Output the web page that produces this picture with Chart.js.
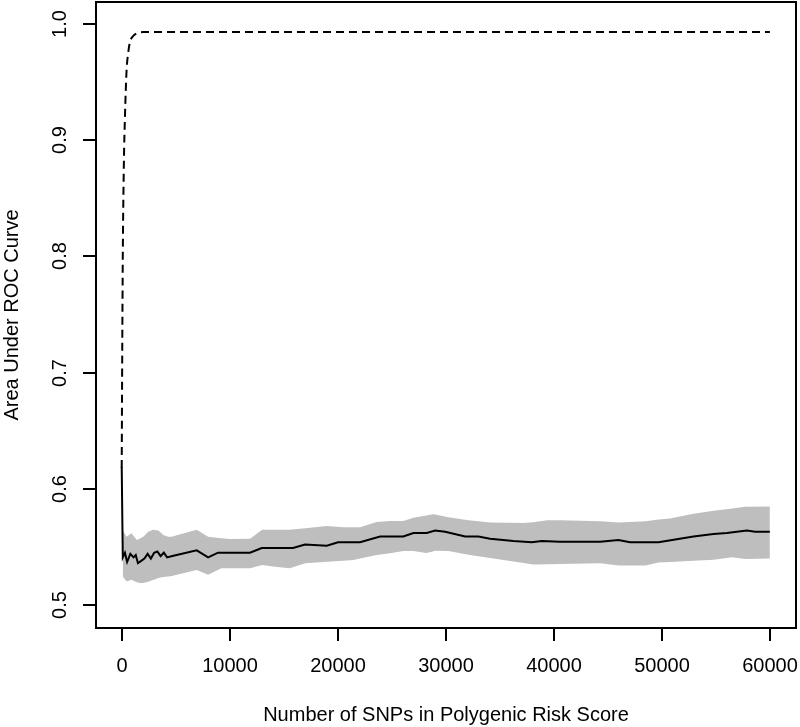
<!DOCTYPE html>
<html>
<head>
<meta charset="utf-8">
<script src="https://cdn.jsdelivr.net/npm/chart.js@4"></script>
<style>
  html, body { margin: 0; padding: 0; background: #fff; }
  canvas { display: block; }
</style>
</head>
<body>
<canvas id="aucChart" width="800" height="727"></canvas>
<script>
// Axis ticks and titles
const xTicks = [0, 10000, 20000, 30000, 40000, 50000, 60000];
const yTicks = [0.5, 0.6, 0.7, 0.8, 0.9, 1.0];
const xTitle = 'Number of SNPs in Polygenic Risk Score';
const yTitle = 'Area Under ROC Curve';

// Dashed curve (rises fast, then flat)
const dashSnps = [0, 50, 100, 200, 300, 450, 600, 750, 1000, 1400, 2000, 60000];
const dashAuc  = [0.618, 0.72, 0.80, 0.88, 0.92, 0.96, 0.975, 0.984, 0.989, 0.992, 0.993, 0.993];

// Mean AUC (solid line)
const meanSnps = [0, 100, 300, 500, 800, 1100, 1300, 1500, 1800, 2100, 2400, 2700, 3000, 3300, 3600, 3900, 4200, 4600,
  6940, 8000, 8920, 11880, 12960, 15860, 16970, 18980, 20030, 22060, 23920, 26070, 27000, 28240, 29010, 29940,
  31790, 33020, 34100, 36260, 37960, 38890, 40580, 44290, 45980, 47060, 49690, 52930, 54780, 56020, 57870, 58640, 60000];
const meanAuc = [0.619, 0.541, 0.545, 0.537, 0.544, 0.541, 0.543, 0.536, 0.538, 0.540, 0.544, 0.540, 0.545, 0.546, 0.542, 0.545, 0.541, 0.542,
  0.547, 0.541, 0.545, 0.545, 0.549, 0.549, 0.552, 0.551, 0.554, 0.554, 0.559, 0.559, 0.562, 0.562, 0.564, 0.563,
  0.559, 0.559, 0.557, 0.555, 0.554, 0.555, 0.5545, 0.5545, 0.556, 0.554, 0.554, 0.559, 0.561, 0.562, 0.564, 0.563, 0.563];

// Grey band (upper / lower bounds)
const bandSnps = [100, 450, 900, 1400, 1700, 2000, 2450, 2900, 3400, 3850, 4300, 4650, 5100, 6940, 8000, 9230, 10030,
  11880, 13000, 14200, 15550, 17000, 18980, 20500, 21450, 22060, 23600, 24840, 26070, 27000, 28200, 28800, 29010,
  30240, 32100, 34100, 37200, 38100, 39400, 40600, 44300, 46000, 48500, 49700, 50750, 52930, 54800, 56500, 57700, 60000];
const bandUpper = [0.564, 0.5588, 0.5617, 0.5559, 0.5573, 0.5588, 0.5631, 0.5647, 0.564, 0.5602, 0.5588, 0.5588, 0.560, 0.5647, 0.5588, 0.5575, 0.5568,
  0.557, 0.5647, 0.5647, 0.5647, 0.566, 0.568, 0.567, 0.567, 0.567, 0.5715, 0.5723, 0.5723, 0.575, 0.577, 0.578, 0.5778,
  0.5755, 0.573, 0.571, 0.5705, 0.5712, 0.573, 0.573, 0.572, 0.571, 0.572, 0.5735, 0.5745, 0.5785, 0.581, 0.583, 0.5845, 0.5847];
const bandLower = [0.5245, 0.5202, 0.5217, 0.5195, 0.519, 0.519, 0.520, 0.5216, 0.5233, 0.524, 0.5245, 0.525, 0.526, 0.5302, 0.526, 0.5317, 0.5317,
  0.5317, 0.5345, 0.533, 0.5317, 0.536, 0.5373, 0.538, 0.5388, 0.540, 0.5431, 0.5445, 0.5465, 0.5465, 0.5447, 0.546, 0.5467,
  0.5465, 0.5433, 0.5405, 0.5362, 0.5348, 0.535, 0.5353, 0.536, 0.534, 0.534, 0.5365, 0.537, 0.5381, 0.539, 0.541, 0.5395, 0.540];

const toPoints = (xs, ys) => xs.map((v, i) => ({ x: v, y: ys[i] }));

const FONT = '20px "Liberation Sans", Arial, sans-serif';

// R-style box, ticks and labels
const rAxes = {
  id: 'rAxes',
  afterDraw(chart) {
    const { ctx, chartArea: a, scales: { x, y } } = chart;
    ctx.save();
    ctx.strokeStyle = '#000';
    ctx.fillStyle = '#000';
    ctx.lineWidth = 2;
    ctx.strokeRect(a.left, a.top, a.right - a.left, a.bottom - a.top);
    ctx.font = FONT;
    ctx.textAlign = 'center';
    ctx.textBaseline = 'middle';

    xTicks.forEach(v => {
      const px = Math.round(x.getPixelForValue(v));
      ctx.beginPath();
      ctx.moveTo(px, a.bottom);
      ctx.lineTo(px, a.bottom + 13);
      ctx.stroke();
      ctx.fillText(String(v), px, 666);
    });

    yTicks.forEach(v => {
      const py = Math.round(y.getPixelForValue(v));
      ctx.beginPath();
      ctx.moveTo(a.left - 13, py);
      ctx.lineTo(a.left, py);
      ctx.stroke();
      ctx.save();
      ctx.translate(60, py);
      ctx.rotate(-Math.PI / 2);
      ctx.fillText(v.toFixed(1), 0, 0);
      ctx.restore();
    });

    ctx.fillText(xTitle, (a.left + a.right) / 2, 715);
    ctx.save();
    ctx.translate(12, (a.top + a.bottom) / 2);
    ctx.rotate(-Math.PI / 2);
    ctx.fillText(yTitle, 0, 0);
    ctx.restore();
    ctx.restore();
  }
};

new Chart(document.getElementById('aucChart'), {
  type: 'line',
  data: {
    datasets: [
      {
        label: 'Mean',
        data: toPoints(meanSnps, meanAuc),
        borderColor: '#000',
        borderWidth: 2,
        pointRadius: 0,
        tension: 0,
        fill: false
      },
      {
        label: 'Dashed',
        data: toPoints(dashSnps, dashAuc),
        borderColor: '#000',
        borderWidth: 2,
        borderDash: [8, 5],
        pointRadius: 0,
        cubicInterpolationMode: 'monotone',
        fill: false
      },
      {
        label: 'Upper',
        data: toPoints(bandSnps, bandUpper),
        borderWidth: 0,
        borderColor: 'rgba(0,0,0,0)',
        backgroundColor: '#bebebe',
        pointRadius: 0,
        tension: 0,
        fill: '+1'
      },
      {
        label: 'Lower',
        data: toPoints(bandSnps, bandLower),
        borderWidth: 0,
        borderColor: 'rgba(0,0,0,0)',
        pointRadius: 0,
        tension: 0,
        fill: false
      }
    ]
  },
  options: {
    responsive: false,
    animation: false,
    layout: { padding: { left: 96, right: 4, top: 2, bottom: 99 } },
    scales: {
      x: { type: 'linear', display: false, min: -2380, max: 62420 },
      y: { type: 'linear', display: false, min: 0.4802, max: 1.0189 }
    },
    plugins: {
      legend: { display: false },
      tooltip: { enabled: false }
    }
  },
  plugins: [rAxes]
});
</script>
</body>
</html>
